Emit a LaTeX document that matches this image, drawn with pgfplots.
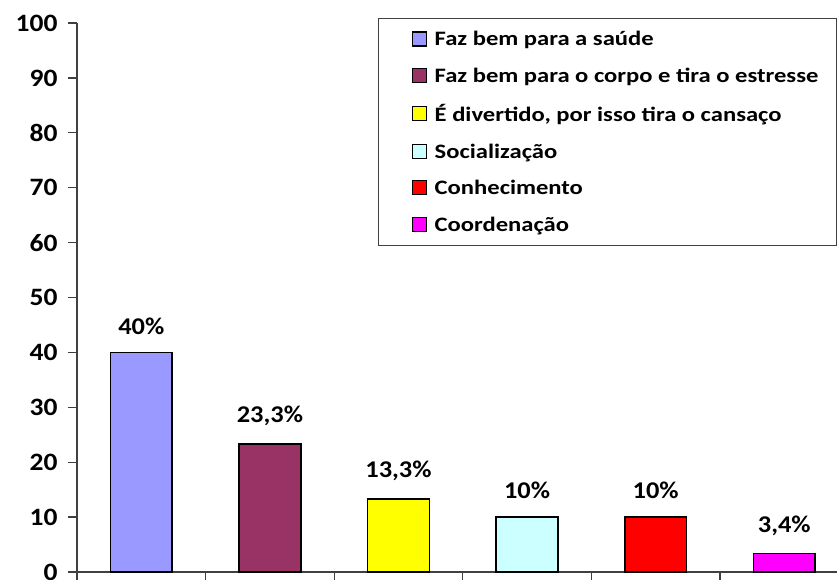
\documentclass[border=0pt]{standalone}
\usepackage{pgfplots}
\pgfplotsset{compat=1.18}
\usepackage{fontspec}
\setmainfont[FakeStretch=1.1]{Carlito}
\newfontfamily\legfont[FakeStretch=1.2]{Carlito}
\definecolor{cA}{HTML}{9999FF}
\definecolor{cB}{HTML}{993366}
\definecolor{cC}{HTML}{FFFF00}
\definecolor{cD}{HTML}{CCFFFF}
\definecolor{cE}{HTML}{FF0000}
\definecolor{cF}{HTML}{FF00FF}
\definecolor{axisgray}{HTML}{404040}
\begin{document}
\begin{tikzpicture}
\useasboundingbox (-77pt,-7pt) rectangle (760pt,572pt);
\begin{axis}[
    at={(0,0)}, anchor=south west,
    scale only axis, width=760pt, height=549pt,
    xmin=-0.5, xmax=5.41, ymin=0, ymax=100,
    axis x line*=bottom, axis y line*=left,
    axis line style={draw=axisgray, line width=1.3pt},
    ytick={0,10,...,100},
    xtick={-0.5,0.5,...,4.5}, xticklabels={},
    tick align=outside, tick style={draw=axisgray, line width=1.3pt},
    major tick length=9pt,
    /pgf/number format/assume math mode=true,
    yticklabel style={font=\bfseries\fontsize{25}{25}\selectfont, xshift=-7pt},
    clip=false,
    ybar, bar shift=0pt, bar width=0.48,
    point meta=explicit symbolic,
    nodes near coords,
    every node near coord/.append style={font=\bfseries\fontsize{24}{24}\selectfont, yshift=14pt},
    legend image code/.code={\path (-10pt,0pt) (26.6pt,0pt); \draw[#1, line width=1.2pt] (7pt,-6.5pt) rectangle (21pt,7.5pt);},
    legend style={at={(1,1.009)}, anchor=north east, draw=axisgray, line width=1pt,
        font=\legfont\bfseries\fontsize{20.5}{20.5}\selectfont, row sep=16.6pt,
        inner xsep=16pt, inner ysep=11pt},
    legend cell align=left,
]
\addplot[fill=cA, draw=black, line width=1.5pt] coordinates {(0,40) [40\%]};
\addlegendentry{Faz bem para a saúde}
\addplot[fill=cB, draw=black, line width=1.5pt] coordinates {(1,23.3) [23,3\%]};
\addlegendentry{Faz bem para o corpo e tira o estresse}
\addplot[fill=cC, draw=black, line width=1.5pt] coordinates {(2,13.3) [13,3\%]};
\addlegendentry{É divertido, por isso tira o cansaço}
\addplot[fill=cD, draw=black, line width=1.5pt] coordinates {(3,10) [10\%]};
\addlegendentry{Socialização}
\addplot[fill=cE, draw=black, line width=1.5pt] coordinates {(4,10) [10\%]};
\addlegendentry{Conhecimento}
\addplot[fill=cF, draw=black, line width=1.5pt] coordinates {(5,3.4) [3,4\%]};
\addlegendentry{Coordenação}
\end{axis}
\end{tikzpicture}
\end{document}
